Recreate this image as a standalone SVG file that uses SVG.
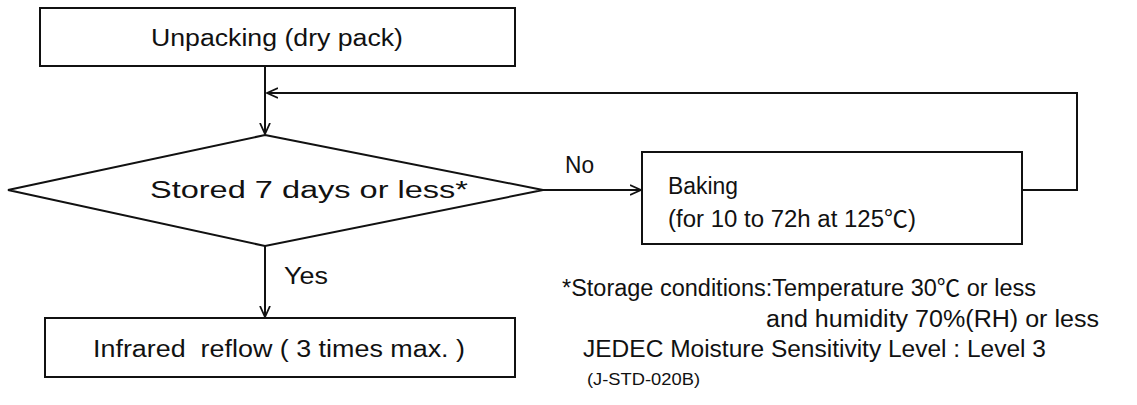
<svg xmlns="http://www.w3.org/2000/svg" width="1137" height="405" viewBox="0 0 1137 405">
<defs>
<style>
.box{fill:#fff;stroke:#111;stroke-width:2}
.ln{fill:none;stroke:#111;stroke-width:2}
text{font-family:"Liberation Sans","Noto Sans CJK JP",sans-serif;font-size:23px;fill:#111}
.c{text-anchor:middle}
.sm{font-size:17px}
</style>
<marker id="arr" viewBox="0 0 12 12" refX="11" refY="6" markerWidth="12" markerHeight="12" markerUnits="userSpaceOnUse" orient="auto">
<path d="M0,1 L11,6 L0,11" fill="none" stroke="#111" stroke-width="1.8"/>
</marker>
</defs>
<rect width="1137" height="405" fill="#fff"/>
<g id="connectors">
<path class="ln" d="M265,66 V134" marker-end="url(#arr)"/>
<path class="ln" d="M1022,190 H1077 V93 H267" marker-end="url(#arr)"/>
<path class="ln" d="M543,190 H641" marker-end="url(#arr)"/>
<path class="ln" d="M265,246 V317" marker-end="url(#arr)"/>
<text x="565" y="173" textLength="29" lengthAdjust="spacingAndGlyphs">No</text>
<text x="284" y="284" textLength="44" lengthAdjust="spacingAndGlyphs">Yes</text>
</g>
<g id="unpacking">
<rect class="box" x="40" y="8" width="475" height="58"/>
<text class="c" x="277" y="46" textLength="252" lengthAdjust="spacingAndGlyphs">Unpacking (dry pack)</text>
</g>
<g id="stored">
<polygon class="box" points="265,135 543,190 265,246 8,190"/>
<text x="150" y="198" textLength="318" lengthAdjust="spacingAndGlyphs">Stored 7 days or less*</text>
</g>
<g id="baking">
<rect class="box" x="642" y="152" width="380" height="92"/>
<text x="668" y="194" textLength="70" lengthAdjust="spacingAndGlyphs">Baking</text>
<text x="668" y="227" textLength="248" lengthAdjust="spacingAndGlyphs">(for 10 to 72h at 125℃)</text>
</g>
<g id="reflow">
<rect class="box" x="45" y="318" width="470" height="59"/>
<text x="93" y="357" textLength="372" lengthAdjust="spacingAndGlyphs" xml:space="preserve">Infrared  reflow ( 3 times max. )</text>
</g>
<g id="notes">
<text x="562" y="296" textLength="474" lengthAdjust="spacingAndGlyphs">*Storage conditions:Temperature 30℃ or less</text>
<text x="766" y="327" textLength="333" lengthAdjust="spacingAndGlyphs">and humidity 70%(RH) or less</text>
<text x="583" y="357" textLength="463" lengthAdjust="spacingAndGlyphs">JEDEC Moisture Sensitivity Level : Level 3</text>
<text class="sm" x="587" y="385" textLength="113" lengthAdjust="spacingAndGlyphs">(J-STD-020B)</text>
</g>
</svg>
